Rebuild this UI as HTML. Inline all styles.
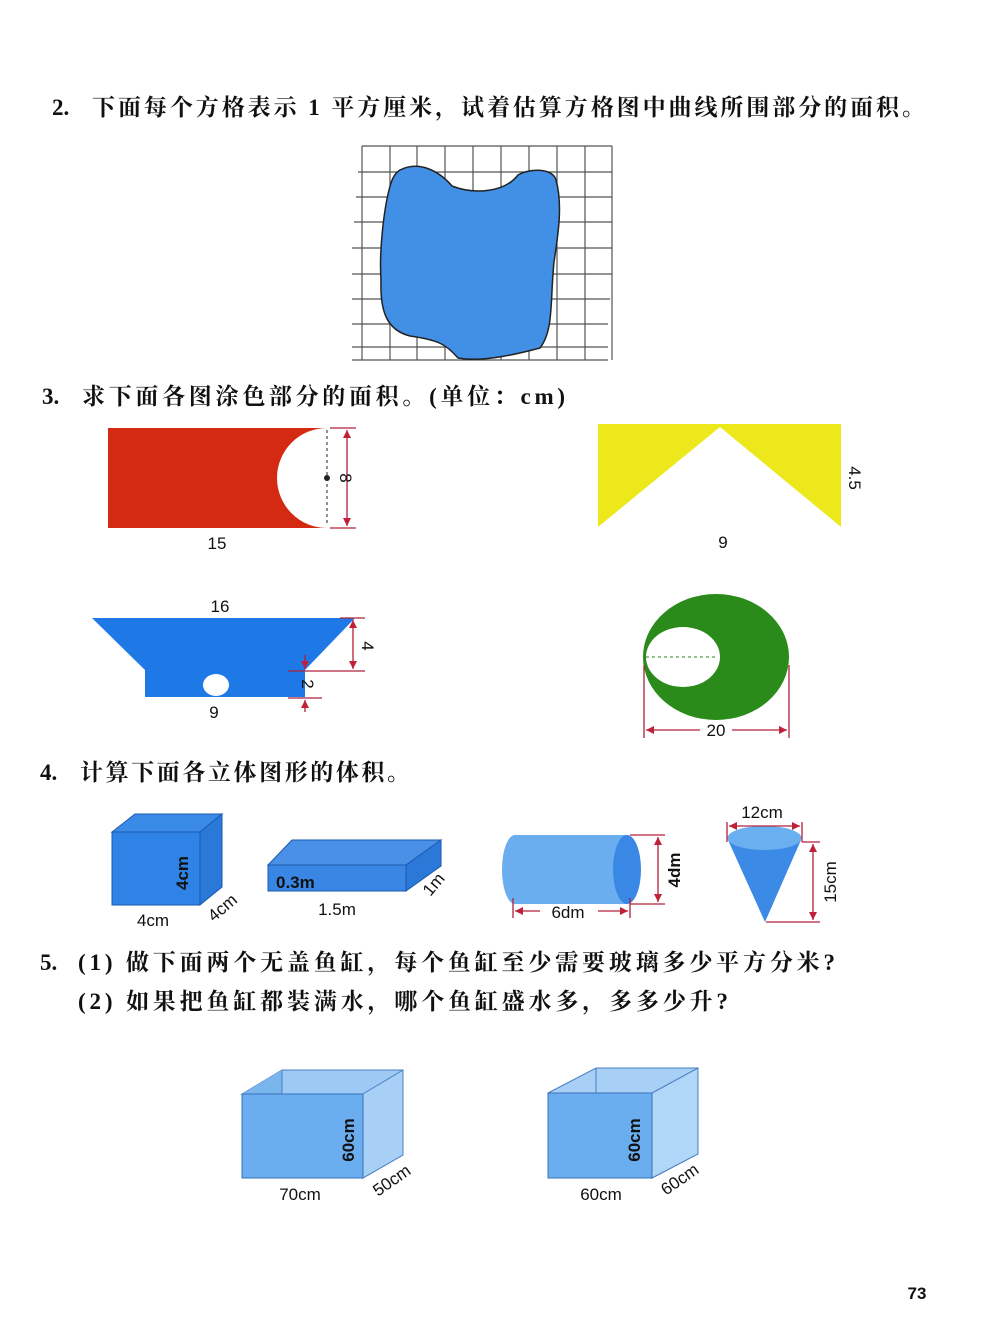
<!DOCTYPE html>
<html><head><meta charset="utf-8"><style>
html,body{margin:0;padding:0;background:#fff}
svg{display:block}
.t{font-family:"Liberation Serif","Noto Serif CJK SC",serif;font-weight:bold;font-size:23px;fill:#111}
.s{font-family:"Liberation Sans",sans-serif;font-size:17px;fill:#111}
.b{font-family:"Liberation Sans",sans-serif;font-size:17px;font-weight:bold;fill:#111}
.d{stroke:#b0203a;stroke-width:1.3;fill:none}
.a{fill:#c0203a}
</style></head><body>
<svg width="1000" height="1336" viewBox="0 0 1000 1336" xmlns="http://www.w3.org/2000/svg">
<text class="t" x="52" y="115">2.</text>
<text class="t" x="92" y="115" textLength="833" lengthAdjust="spacing">下面每个方格表示 1 平方厘米，试着估算方格图中曲线所围部分的面积。</text>
<g stroke="#555" stroke-width="1.2" fill="none">
<path d="M362,146 V360 M390,146 V360 M417,146 V360 M445,146 V360 M473,146 V360 M501,146 V360 M529,146 V360 M557,146 V360 M585,146 V360 M612,146 V360"/>
<path d="M362,146 H612 M358,172 H612 M356,197 H612 M354,222 H612 M352,248 H612 M352,274 H612 M352,299 H610 M352,324 H608 M352,347 H608 M352,360 H608"/>
</g>
<path d="M400,170 C420,160 440,172 452,186 C475,195 505,192 518,175 C530,168 553,168 556,180 C563,205 558,235 554,262 C550,300 554,330 540,348 C510,356 480,362 458,358 C446,344 438,340 410,336 C386,330 380,310 381,280 C379,250 384,210 389,190 C392,178 395,173 400,170 Z" fill="#4190e6" stroke="#222" stroke-width="1.5"/>

<text class="t" x="42" y="404">3.</text>
<text class="t" x="82" y="404" textLength="483" lengthAdjust="spacing">求下面各图涂色部分的面积。(单位：cm)</text>
<rect x="108" y="428" width="219" height="100" fill="#d42a12"/>
<path d="M327,428 A50,50 0 0 0 327,528 Z" fill="#fff"/>
<line x1="327" y1="430" x2="327" y2="526" stroke="#222" stroke-dasharray="3,3"/>
<circle cx="327" cy="478" r="3" fill="#222"/>
<path class="d" d="M330,428 H356 M330,528 H356 M347,430 V526"/>
<path class="a" d="M347,430 l-4,8 h8z M347,526 l-4,-8 h8z"/>
<text class="s" transform="translate(340,478) rotate(90)" text-anchor="middle">8</text>
<text class="s" x="217" y="549" text-anchor="middle">15</text>

<rect x="598" y="424" width="243" height="103" fill="#ece81c"/>
<path d="M598,527 L720,427 L841,527Z" fill="#fff"/>
<text class="s" transform="translate(849,478) rotate(90)" text-anchor="middle">4.5</text>
<text class="s" x="723" y="548" text-anchor="middle">9</text>

<path d="M92,618 H355 L305,670 V697 H145 V670 Z" fill="#1e78e6"/>
<ellipse cx="216" cy="685" rx="13" ry="11" fill="#fff"/>
<text class="s" x="220" y="612" text-anchor="middle">16</text>
<text class="s" x="214" y="718" text-anchor="middle">9</text>
<path class="d" d="M340,618 H365 M288,671 H365 M288,698 H322 M353,620 V669 M305,655 V669 M305,700 V712"/>
<path class="a" d="M353,620 l-4,8 h8z M353,669 l-4,-8 h8z M305,669 l-4,-8 h8z M305,700 l-4,8 h8z"/>
<text class="s" transform="translate(362,646) rotate(90)" text-anchor="middle">4</text>
<text class="s" transform="translate(302,684) rotate(90)" text-anchor="middle">2</text>

<ellipse cx="716" cy="657" rx="73" ry="63" fill="#2a8a1a"/>
<ellipse cx="683" cy="657" rx="37" ry="30" fill="#fff"/>
<line x1="646" y1="657" x2="716" y2="657" stroke="#2a8a1a" stroke-dasharray="3,3"/>
<path class="d" d="M644,665 V738 M789,665 V738 M646,730 H700 M732,730 H787"/>
<path class="a" d="M646,730 l8,-4 v8z M787,730 l-8,-4 v8z"/>
<text class="s" x="716" y="736" text-anchor="middle">20</text>

<text class="t" x="40" y="780">4.</text>
<text class="t" x="80" y="780" textLength="330" lengthAdjust="spacing">计算下面各立体图形的体积。</text>
<path d="M112,832 L135,814 H222 L200,832Z" fill="#3a8ae8" stroke="#1a5ab0"/>
<path d="M200,832 L222,814 V887 L200,905Z" fill="#2a78d8" stroke="#1a5ab0"/>
<rect x="112" y="832" width="88" height="73" fill="#2f82e6" stroke="#1a5ab0"/>
<text class="b" transform="translate(188,873) rotate(-90)" text-anchor="middle">4cm</text>
<text class="s" x="153" y="926" text-anchor="middle">4cm</text>
<text class="s" transform="translate(226,912) rotate(-40)" text-anchor="middle">4cm</text>

<path d="M268,865 L292,840 H441 L406,865Z" fill="#4a90e6" stroke="#1a5ab0"/>
<path d="M406,865 L441,840 V866 L406,891Z" fill="#2a78d8" stroke="#1a5ab0"/>
<rect x="268" y="865" width="138" height="26" fill="#3a86e4" stroke="#1a5ab0"/>
<text class="b" x="276" y="888">0.3m</text>
<text class="s" x="337" y="915" text-anchor="middle">1.5m</text>
<text class="s" transform="translate(438,888) rotate(-50)" text-anchor="middle">1m</text>

<path d="M515,835 H627 V904 H515 A13,34.5 0 0 1 515,835Z" fill="#6aaef0"/>
<ellipse cx="627" cy="869.5" rx="14" ry="34.5" fill="#3a88e6"/>
<path class="d" d="M630,835 H665 M630,904 H665 M658,837 V902 M513,898 V918 M630,898 V918 M515,911 H540 M598,911 H628"/>
<path class="a" d="M658,837 l-4,8 h8z M658,902 l-4,-8 h8z M515,911 l8,-4 v8z M628,911 l-8,-4 v8z"/>
<text class="b" transform="translate(680,870) rotate(-90)" text-anchor="middle">4dm</text>
<text class="s" x="568" y="918" text-anchor="middle">6dm</text>

<path d="M728,840 L765,922 L801,840Z" fill="#3a8ae6"/>
<ellipse cx="764.5" cy="838" rx="37" ry="12" fill="#6ab0f0"/>
<path class="d" d="M727,822 V842 M802,822 V842 M729,826 H800 M802,842 H820 M766,922 H820 M813,844 V920"/>
<path class="a" d="M729,826 l8,-4 v8z M800,826 l-8,-4 v8z M813,844 l-4,8 h8z M813,920 l-4,-8 h8z"/>
<text class="s" x="762" y="818" text-anchor="middle">12cm</text>
<text class="s" transform="translate(836,882) rotate(-90)" text-anchor="middle">15cm</text>

<text class="t" x="40" y="970">5.</text>
<text class="t" x="78" y="970" textLength="757" lengthAdjust="spacing">(1) 做下面两个无盖鱼缸，每个鱼缸至少需要玻璃多少平方分米?</text>
<text class="t" x="78" y="1009" textLength="650" lengthAdjust="spacing">(2) 如果把鱼缸都装满水，哪个鱼缸盛水多，多多少升?</text>

<path d="M242,1094 L282,1070 H403 V1155 L363,1178 V1094Z" fill="#9ccaf4" stroke="#4a80c0"/>
<path d="M242,1094 L282,1070 V1094Z" fill="#7ab6ee"/>
<line x1="282" y1="1070" x2="282" y2="1094" stroke="#4a80c0"/>
<path d="M363,1094 L403,1070 V1155 L363,1178Z" fill="#a8d0f6" stroke="#4a80c0"/>
<rect x="242" y="1094" width="121" height="84" fill="#6aaef0" stroke="#3a70b8"/>
<text class="b" transform="translate(354,1140) rotate(-90)" text-anchor="middle">60cm</text>
<text class="s" x="300" y="1200" text-anchor="middle">70cm</text>
<text class="s" transform="translate(395,1185) rotate(-35)" text-anchor="middle">50cm</text>

<path d="M548,1093 L596,1068 H698 V1154 L652,1178 V1093Z" fill="#a8d0f6" stroke="#4a80c0"/>
<line x1="596" y1="1068" x2="596" y2="1093" stroke="#4a80c0"/>
<path d="M652,1093 L698,1068 V1154 L652,1178Z" fill="#b0d6f8" stroke="#4a80c0"/>
<rect x="548" y="1093" width="104" height="85" fill="#6aaef0" stroke="#3a70b8"/>
<text class="b" transform="translate(640,1140) rotate(-90)" text-anchor="middle">60cm</text>
<text class="s" x="601" y="1200" text-anchor="middle">60cm</text>
<text class="s" transform="translate(683,1184) rotate(-35)" text-anchor="middle">60cm</text>

<text class="b" x="917" y="1299" text-anchor="middle">73</text>
</svg>
</body></html>
